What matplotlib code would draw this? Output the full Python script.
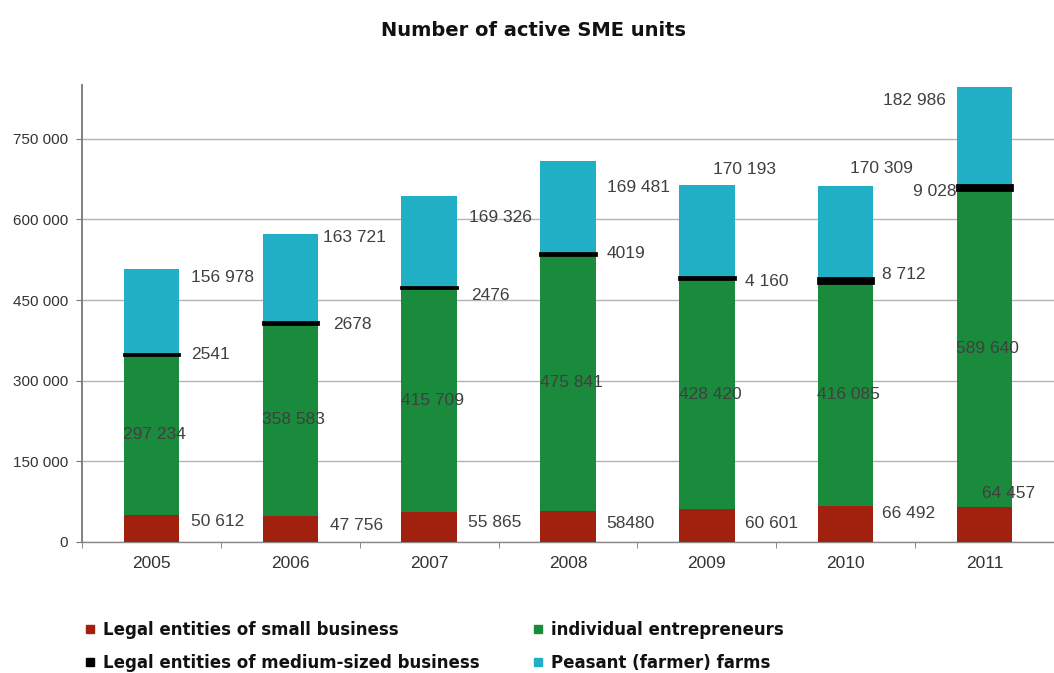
#!/usr/bin/env python
"""
Stacked bars of the number of active SME units by year.
"""

import matplotlib
matplotlib.use('Agg')
import matplotlib.pyplot as plt
from matplotlib.lines import Line2D
import numpy

plt.rcParams['font.family'] = ['Liberation Sans', 'DejaVu Sans']

# data
years = ['2005', '2006', '2007', '2008', '2009', '2010', '2011']
small_business = [50612, 47756, 55865, 58480, 60601, 66492, 64457]
individual_entrepreneurs = [297234, 358583, 415709, 475841, 428420, 416085, 589640]
medium_business = [2541, 2678, 2476, 4019, 4160, 8712, 9028]
farms = [156978, 163721, 169326, 169481, 170193, 170309, 182986]

# how the labels are printed (the source is not consistent about spaces)
small_labels = ['50 612', '47 756', '55 865', '58480', '60 601', '66 492', '64 457']
individual_labels = ['297 234', '358 583', '415 709', '475 841', '428 420', '416 085', '589 640']
medium_labels = ['2541', '2678', '2476', '4019', '4 160', '8 712', '9 028']
farm_labels = ['156 978', '163 721', '169 326', '169 481', '170 193', '170 309', '182 986']

series_names = [
    'Legal entities of small business',
    'individual entrepreneurs',
    'Legal entities of medium-sized business',
    'Peasant (farmer) farms',
]

colors = {
    'small': '#a2200e',
    'individual': '#1a8a3c',
    'medium': '#000000',
    'farms': '#21afc6',
}

fig = plt.figure(figsize=(10.54, 6.73), dpi=100)
ax = fig.add_axes([0.0778, 0.1947, 0.9222, 0.679])

x = numpy.arange(len(years))
width = 0.40
small = numpy.array(small_business)
indiv = numpy.array(individual_entrepreneurs)
medium = numpy.array(medium_business)
farm = numpy.array(farms)

# stacked bars
ax.bar(x, small, width, color=colors['small'], zorder=3)
ax.bar(x, indiv, width, bottom=small, color=colors['individual'], zorder=3)
ax.bar(x, medium, width, bottom=small + indiv, color=colors['medium'],
       edgecolor='black', linewidth=2.0, zorder=4)
ax.bar(x, farm, width, bottom=small + indiv + medium, color=colors['farms'],
       zorder=3)

# axis domain
ax.set_xlim(-0.461, 6.426)
ax.set_ylim(0, 850000)

# y axis ticks with a space as thousands separator
yticks = numpy.arange(0, 750001, 150000)
ax.set_yticks(yticks)
ax.set_yticklabels(['{:,}'.format(y).replace(',', ' ') for y in yticks],
                   fontsize=11, color='#333333')
ax.set_xticks(x)
ax.set_xticklabels(years, fontsize=12.5, color='#333333')
ax.set_xticks(numpy.arange(-0.5, len(years) - 0.4, 1.0), minor=True)
ax.tick_params(axis='x', which='major', length=0, pad=10)
ax.tick_params(axis='x', which='minor', length=4, color='#777777')
ax.tick_params(axis='y', length=4, color='#777777', pad=6)

# gridlines and frame
ax.yaxis.grid(True, color='#b4b4b4', linewidth=1.0, zorder=0)
ax.set_axisbelow(True)
ax.spines['top'].set_visible(False)
ax.spines['right'].set_visible(False)
ax.spines['left'].set_color('#777777')
ax.spines['left'].set_linewidth(1.3)
ax.spines['bottom'].set_color('#888888')
ax.spines['bottom'].set_linewidth(1.0)

# data labels: offsets in pixels from the right edge of each bar
label_kw = dict(textcoords='offset pixels', fontsize=12.5, color='#404040',
                va='center', annotation_clip=False, zorder=6)
right_edge = x + width / 2

small_offsets = [(12, -7), (12, -9), (11, -11), (11, -13), (10, -14), (9, -7), (-30, 14)]
for i, (dx, dy) in enumerate(small_offsets):
    ax.annotate(small_labels[i], (right_edge[i], small[i]), xytext=(dx, dy),
                ha='left', **label_kw)

for i in range(len(years)):
    mid = small[i] + indiv[i] / 2
    ax.annotate(individual_labels[i], (x[i], mid), xytext=(3, 0),
                ha='center', **label_kw)

medium_offsets = [(12, 0, 'left'), (15, -2, 'left'), (14, -8, 'left'),
                  (11, 0, 'left'), (10, -4, 'left'), (9, 6, 'left'),
                  (-56, -4, 'right')]
for i, (dx, dy, ha) in enumerate(medium_offsets):
    ypos = small[i] + indiv[i] + medium[i] / 2
    ax.annotate(medium_labels[i], (right_edge[i], ypos), xytext=(dx, dy),
                ha=ha, **label_kw)

farm_offsets = [(12, -8, 'left'), (5, -3, 'left'), (12, -21, 'left'),
                (11, -26, 'left'), (-22, 16, 'left'), (-23, 18, 'left'),
                (-66, -13, 'right')]
for i, (dx, dy, ha) in enumerate(farm_offsets):
    top = small[i] + indiv[i] + medium[i] + farm[i]
    ax.annotate(farm_labels[i], (right_edge[i], top), xytext=(dx, dy),
                ha=ha, **label_kw)

# title
fig.text(0.506, 0.955, 'Number of active SME units', ha='center',
         va='center', fontsize=14, fontweight='bold', color='#111111',
         family='DejaVu Sans')

# legend
handles = []
for key in ['small', 'medium', 'individual', 'farms']:
    handles.append(Line2D([], [], linestyle='none', marker='s',
                          markersize=6, markerfacecolor=colors[key],
                          markeredgecolor=colors[key]))
names = [series_names[0], series_names[2], series_names[1], series_names[3]]
fig.legend(handles, names, ncol=2, loc='lower left',
           bbox_to_anchor=(0.066, -0.021), frameon=False,
           prop={'family': 'DejaVu Sans', 'weight': 'bold', 'size': 12},
           handlelength=0.6, handletextpad=0.5, columnspacing=3.2,
           labelspacing=0.9, labelcolor='#111111')

plt.savefig('out.png', dpi=100)
